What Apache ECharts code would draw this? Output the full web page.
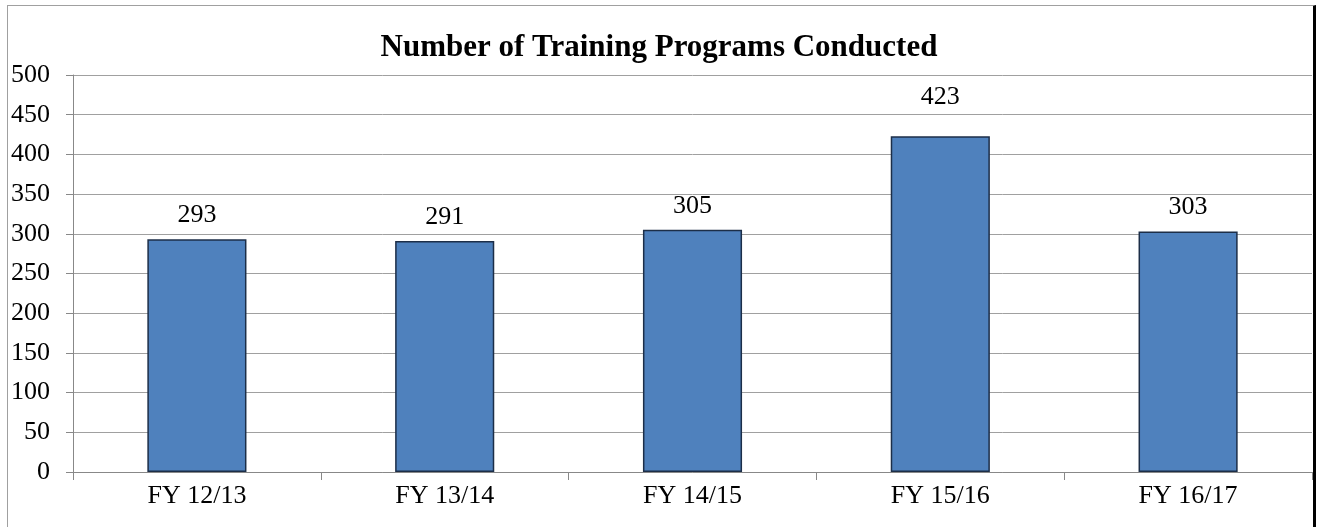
<!DOCTYPE html>
<html>
<head>
<meta charset="utf-8">
<script src="https://cdn.jsdelivr.net/npm/echarts@6/dist/echarts.min.js"></script>
<style>
  html, body { margin: 0; padding: 0; background: #fff; }
  #frame {
    position: absolute; left: 7px; top: 5px; width: 1305px; height: 530px;
    border-left: 1px solid #a0a0a0; border-top: 1px solid #a0a0a0;
    border-right: 3px solid #000;
  }
  #main { position: absolute; left: 0; top: 0; width: 1318px; height: 527px; }
</style>
</head>
<body>
<div id="frame"></div>
<div id="main"></div>
<script>
// chart data
var categories = ['FY 12/13', 'FY 13/14', 'FY 14/15', 'FY 15/16', 'FY 16/17'];
var programs = [293, 291, 305, 423, 303];

var myChart = echarts.init(document.getElementById('main'));

// the tallest bar's label sits a bit higher in the original
var barData = programs.map(function (v, i) {
    return i === 3 ? { value: v, label: { distance: 26 } } : v;
});

var option = {
    animation: false,
    title: {
        text: 'Number of Training Programs Conducted',
        left: 'center',
        top: 27,
        textStyle: {
            fontFamily: 'Liberation Serif',
            fontWeight: 'bold',
            fontSize: 31,
            color: '#000'
        }
    },
    grid: { left: 73, right: 6, top: 75, bottom: 55 },
    xAxis: {
        type: 'category',
        data: categories,
        axisLine: { lineStyle: { color: '#888', width: 1 } },
        axisTick: { show: true, length: 8, lineStyle: { color: '#888' } },
        axisLabel: {
            margin: 11,
            fontFamily: 'Liberation Serif',
            fontSize: 26,
            color: '#000'
        }
    },
    yAxis: {
        type: 'value',
        min: 0,
        max: 500,
        interval: 50,
        axisLine: { show: true, lineStyle: { color: '#888', width: 1 } },
        axisTick: { show: true, inside: false, length: 7, lineStyle: { color: '#888' } },
        splitLine: { lineStyle: { color: '#a0a0a0', width: 1 } },
        axisLabel: {
            margin: 23,
            fontFamily: 'Liberation Serif',
            fontSize: 26,
            color: '#000'
        }
    },
    series: [{
        type: 'bar',
        data: barData,
        barWidth: '40%',
        itemStyle: {
            color: '#4F81BD',
            borderColor: '#1c2e48',
            borderWidth: 1.5
        },
        label: {
            show: true,
            position: 'top',
            distance: 11,
            fontFamily: 'Liberation Serif',
            fontSize: 26,
            color: '#000'
        }
    }]
};

myChart.setOption(option);
</script>
</body>
</html>
